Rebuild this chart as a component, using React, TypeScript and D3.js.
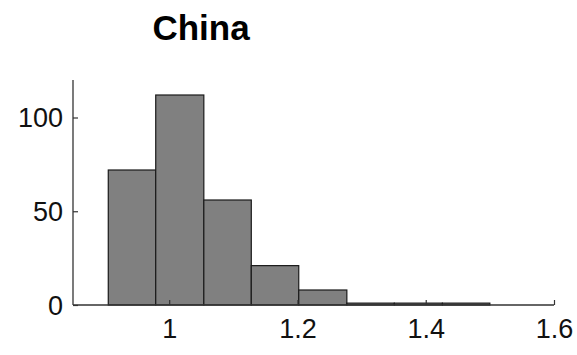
import React, { useEffect, useRef } from 'react';
import * as d3 from 'd3';

// histogram bins
const binEdges = [0.905, 0.979, 1.054, 1.128, 1.202, 1.277, 1.351, 1.426, 1.5];
const counts = [72, 112, 56, 21, 8, 1, 1, 1];
const xTicks = [1, 1.2, 1.4, 1.6];
const yTicks = [0, 50, 100];
const title = 'China';

const App = () => {
  const svgRef = useRef<SVGSVGElement>(null);

  const width = 577;
  const height = 355;
  const margin = { top: 80, right: 23, bottom: 50, left: 73 };

  useEffect(() => {
    const svg = d3.select(svgRef.current);
    svg.selectAll('*').remove();

    const x = d3.scaleLinear().domain([0.85, 1.6]).range([margin.left, width - margin.right]);
    const y = d3.scaleLinear().domain([0, 120]).range([height - margin.bottom, margin.top]);

    const font = '"Liberation Sans", Arial, sans-serif';

    // title
    svg
      .append('text')
      .attr('x', 201)
      .attr('y', 40)
      .attr('text-anchor', 'middle')
      .style('font-family', font)
      .style('font-weight', 'bold')
      .style('font-size', '35px')
      .attr('fill', '#000')
      .text(title);

    // bars
    const bins = counts.map((c, i) => ({ x0: binEdges[i], x1: binEdges[i + 1], c }));
    svg
      .append('g')
      .selectAll('rect')
      .data(bins)
      .enter()
      .append('rect')
      .attr('x', (d) => x(d.x0))
      .attr('y', (d) => y(d.c))
      .attr('width', (d) => x(d.x1) - x(d.x0))
      .attr('height', (d) => y(0) - y(d.c))
      .attr('fill', '#808080')
      .attr('stroke', '#1a1a1a')
      .attr('stroke-width', 1.2);

    // axes, MATLAB style with inward ticks
    const xAxis = d3
      .axisBottom(x)
      .tickValues(xTicks)
      .tickSize(-5)
      .tickPadding(14)
      .tickFormat((d) => d3.format('')(+d));
    const gx = svg
      .append('g')
      .attr('transform', `translate(0,${y(0)})`)
      .call(xAxis);

    const yAxis = d3.axisLeft(y).tickValues(yTicks).tickSize(-5).tickPadding(10);
    const gy = svg.append('g').attr('transform', `translate(${x(0.85)},0)`).call(yAxis);

    [gx, gy].forEach((g) => {
      g.select('.domain').attr('stroke', '#333').attr('stroke-width', 1.3);
      g.selectAll('.tick line').attr('stroke', '#333').attr('stroke-width', 1.2);
      g.selectAll('.tick text')
        .style('font-family', font)
        .style('font-size', '27px')
        .attr('fill', '#111');
    });
    gx.selectAll('.tick text').attr('dy', '0.71em');
    gy.selectAll('.tick text').attr('dy', '0.35em');
    // plain domain lines (no end caps)
    gx.select('.domain').attr('d', `M${x(0.85)},0H${x(1.6)}`);
    gy.select('.domain').attr('d', `M0,${y(0)}V${y(120)}`);
  }, []);

  return (
    <div style={{ position: 'fixed', left: 0, top: 0, background: '#fff' }}>
      <svg ref={svgRef} width={width} height={height} style={{ display: 'block' }}></svg>
    </div>
  );
};

export default App;
